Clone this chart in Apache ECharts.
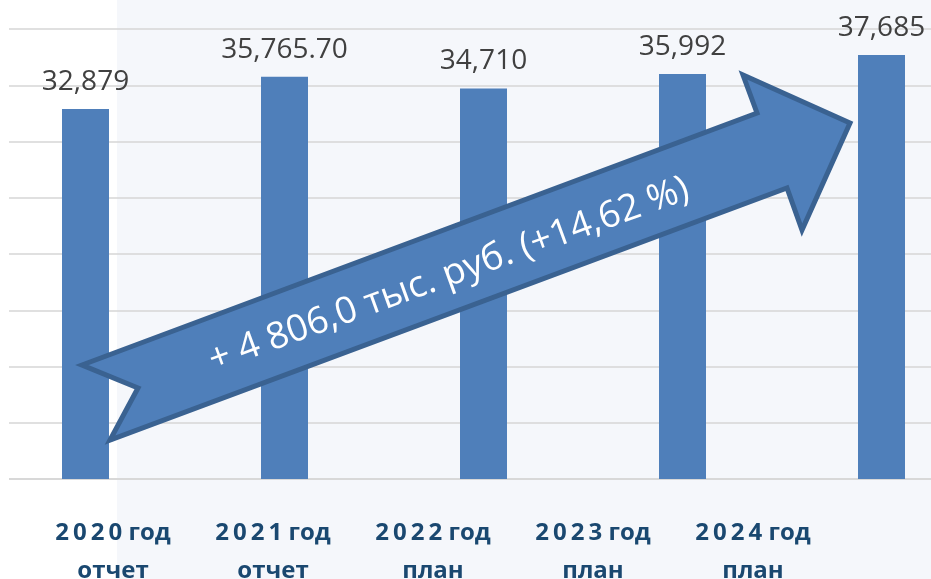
<!DOCTYPE html>
<html>
<head>
<meta charset="utf-8">
<script src="https://cdn.jsdelivr.net/npm/echarts@6/dist/echarts.min.js"></script>
<style>
  html, body { margin: 0; padding: 0; background: #fff; }
  #main { width: 931px; height: 579px; }
</style>
</head>
<body>
<div id="main"></div>
<script>
// годы и тип показателя
const years = ['2020', '2021', '2022', '2023', '2024'];
const kinds = ['отчет', 'отчет', 'план', 'план', 'план'];
// значения, тыс. руб.
const values = [32879, 35765.7, 34710, 35992, 37685];
const arrowText = '+ 4 806,0 тыс. руб. (+14,62 %)';

const barColor = '#4f7fba';
const textBlue = '#1a4870';

function fmt(v) {
  const dec = v % 1 ? 2 : 0;
  return new Intl.NumberFormat('en-US', { minimumFractionDigits: dec, maximumFractionDigits: dec }).format(v);
}

const catLabels = years.map(function (y, i) {
  return y.split('').join('\u2009') + ' год\n' + kinds[i];
});

const chart = echarts.init(document.getElementById('main'));
const rad = 20 * Math.PI / 180;

chart.setOption({
  animation: false,
  backgroundColor: '#ffffff',
  grid: [
    { left: -14, right: -50, top: 29, bottom: 100, outerBoundsMode: 'none' },
    { left: 33, width: 800, top: 29, bottom: 100, outerBoundsMode: 'none' }
  ],
  xAxis: [{
    type: 'category',
    gridIndex: 0,
    data: years,
    axisLine: { show: true, lineStyle: { color: '#d6d6d6', width: 1.5 } },
    axisTick: { show: false },
    axisLabel: { show: false }
  }, {
    type: 'category',
    gridIndex: 1,
    data: catLabels,
    axisLine: { show: false },
    axisTick: { show: false },
    axisLabel: {
      margin: 35,
      fontFamily: 'Open Sans',
      fontWeight: 'bold',
      fontSize: 24,
      lineHeight: 38,
      color: textBlue
    }
  }],
  yAxis: [{
    type: 'value',
    gridIndex: 0,
    min: 0,
    max: 40000,
    interval: 5000,
    axisLabel: { show: false },
    axisLine: { show: false },
    axisTick: { show: false },
    splitLine: { lineStyle: { color: '#d6d6d6', width: 1.5 } }
  }, {
    type: 'value',
    gridIndex: 1,
    min: 0,
    max: 1,
    show: false,
    splitLine: { show: false }
  }],
  series: [{
    type: 'bar',
    xAxisIndex: 0,
    yAxisIndex: 0,
    data: values,
    barWidth: 47,
    itemStyle: { color: barColor },
    label: {
      show: true,
      position: 'top',
      distance: 13,
      fontFamily: 'Open Sans',
      fontSize: 28,
      color: '#404040',
      formatter: function (p) { return fmt(p.value); }
    }
  }],
  graphic: [{
    type: 'rect',
    z: -10,
    shape: { x: 117, y: 0, width: 814, height: 579 },
    style: { fill: '#f5f7fb' }
  }, {
    type: 'rect',
    z: 50,
    shape: { x: 0, y: 0, width: 9, height: 579 },
    style: { fill: '#ffffff' }
  }, {
    type: 'polygon',
    z: 100,
    shape: {
      points: [[82, 365], [757, 113], [743, 75], [850, 123], [802, 230], [787, 188], [110, 440], [138, 388]]
    },
    style: { fill: barColor, stroke: '#3a6291', lineWidth: 5, lineJoin: 'miter' }
  }, {
    type: 'text',
    z: 101,
    x: 449,
    y: 275,
    rotation: rad,
    style: {
      text: arrowText,
      fill: '#ffffff',
      font: '37px "Open Sans"',
      align: 'center',
      verticalAlign: 'middle'
    }
  }]
});
</script>
</body>
</html>
